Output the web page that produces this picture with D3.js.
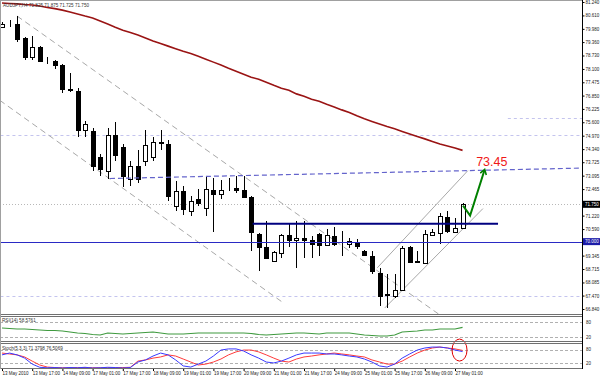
<!DOCTYPE html>
<html>
<head>
<meta charset="utf-8">
<script src="https://cdn.jsdelivr.net/npm/d3@7.9.0/dist/d3.min.js"></script>
<style>
  body { margin: 0; background: #fff; }
  svg { display: block; font-family: "Liberation Sans", Arial, sans-serif; }
</style>
</head>
<body>
<div id="chart"></div>
<script>
// price axis labels (right side); the ones under the bid / level tags are left out
const priceTicks = ['81.240', '80.610', '79.980', '79.360', '78.730', '78.100', '77.475', '76.850',
    '76.225', '75.600', '74.970', '74.340', '73.725', '73.095', '72.465', '71.220',
    '70.590', '69.345', '68.715', '68.085', '67.470', '66.840'];

// one label every 4 bars (H4)
const dateLabels = ['13 May 2010', '13 May 17:00', '14 May 09:00', '17 May 01:00', '17 May 17:00',
    '18 May 09:00', '19 May 01:00', '19 May 17:00', '20 May 09:00', '21 May 01:00', '21 May 17:00',
    '24 May 09:00', '25 May 01:00', '25 May 17:00', '26 May 09:00', '27 May 01:00'];

// AUDJPY H4 candles
const opens = [80.06, 80.25, 80.21, 79.55, 78.65, 79.12, 78.42, 78.46, 78.28, 77.15,
    77.05, 75.22, 75.17, 73.99, 73.33, 74.98, 74.46, 72.96, 73.57, 73.80,
    73.95, 74.65, 74.60, 71.69, 72.39, 71.45, 72.02, 71.59, 72.44, 72.25,
    72.53, 72.53, 72.44, 72.11, 70.37, 69.76, 69.10, 69.48, 70.32, 70.09,
    70.18, 70.09, 70.37, 69.85, 70.28, 69.90, 69.90, 69.99, 69.57, 69.33,
    68.53, 67.55, 67.45, 67.73, 69.76, 69.05, 69.01, 70.32, 70.42, 71.17,
    70.46, 70.65];
const highs = [80.30, 80.39, 80.58, 79.59, 79.64, 79.17, 78.65, 78.51, 78.32, 77.90,
    77.19, 75.64, 75.31, 74.13, 75.31, 75.59, 74.60, 73.80, 74.28, 75.22,
    74.89, 75.22, 74.75, 72.86, 72.63, 72.16, 72.49, 73.10, 73.00, 72.91,
    73.00, 73.10, 73.10, 72.16, 70.42, 70.98, 69.57, 70.37, 70.89, 70.98,
    70.98, 70.28, 70.42, 70.61, 70.70, 70.51, 70.18, 70.13, 69.62, 69.57,
    68.77, 68.49, 68.49, 69.81, 69.81, 69.57, 70.56, 70.61, 71.36, 71.45,
    71.12, 71.83];
const lows = [80.02, 80.06, 79.36, 78.51, 78.51, 78.42, 78.32, 78.09, 76.96, 77.01,
    74.93, 74.93, 73.33, 73.10, 72.96, 73.80, 72.58, 72.63, 72.77, 73.57,
    73.80, 74.28, 71.92, 71.45, 71.26, 71.22, 71.69, 71.22, 70.46, 72.02,
    72.39, 72.30, 72.06, 69.57, 68.63, 69.19, 69.05, 69.24, 69.76, 68.77,
    69.24, 69.24, 69.33, 69.81, 69.81, 69.33, 69.71, 69.66, 69.33, 68.49,
    66.98, 66.89, 67.36, 67.69, 69.01, 69.01, 68.96, 70.28, 69.90, 70.42,
    70.42, 70.61];
const closes = [80.21, 80.24, 79.50, 78.65, 79.12, 78.46, 78.41, 78.28, 77.15, 77.10,
    75.22, 75.50, 73.57, 73.43, 74.98, 74.04, 73.10, 73.57, 72.96, 74.51,
    74.65, 74.64, 72.16, 72.39, 71.55, 71.92, 71.83, 72.49, 72.25, 72.44,
    72.52, 72.44, 72.11, 70.46, 69.76, 69.24, 69.52, 70.32, 70.09, 70.18,
    70.09, 69.90, 69.85, 70.32, 69.90, 69.91, 70.04, 69.81, 69.38, 68.63,
    67.45, 67.50, 67.73, 69.71, 69.05, 69.10, 70.37, 70.46, 71.22, 70.51,
    70.65, 71.75];

// long moving average (dark red)
const maSlow = [81.19, 81.17, 81.15, 81.12, 81.10, 81.05, 80.98, 80.93, 80.86, 80.77,
    80.68, 80.58, 80.49, 80.35, 80.21, 80.06, 79.92, 79.81, 79.69, 79.55,
    79.41, 79.29, 79.17, 79.05, 78.93, 78.82, 78.70, 78.56, 78.42, 78.28,
    78.13, 77.99, 77.85, 77.71, 77.62, 77.48, 77.33, 77.19, 77.10, 76.93,
    76.82, 76.68, 76.58, 76.44, 76.32, 76.18, 76.06, 75.90, 75.76, 75.64,
    75.52, 75.40, 75.29, 75.17, 75.05, 74.93, 74.82, 74.70, 74.58, 74.49,
    74.39, 74.28];

const rsi14 = [56, 54, 52, 52, 50, 48, 46, 46, 44, 40,
    36, 34, 30, 28, 36, 34, 32, 34, 36, 38,
    40, 36, 32, 32, 32, 34, 36, 36, 36, 36,
    36, 36, 36, 34, 30, 28, 30, 32, 34, 36,
    36, 34, 32, 36, 36, 36, 36, 32, 28, 26,
    24, 24, 28, 40, 42, 44, 48, 48, 52, 52,
    52, 58.6];

const stochMain = [57, 65, 57, 43, 17, 3, 1, 2, 0, 2,
    1, 3, 0, 1, 3, 2, 0, 2, 26, 35,
    52, 65, 57, 35, 9, 4, 17, 30, 52, 78,
    83, 83, 74, 57, 43, 26, 22, 30, 43, 57,
    65, 65, 65, 61, 61, 57, 52, 48, 39, 26,
    9, 4, 17, 43, 61, 78, 87, 91, 91, 87,
    78, 71.4];
const stochSignal = [65, 61, 57, 48, 30, 13, 4, 2, 1, 1,
    2, 2, 1, 1, 1, 2, 2, 3, 30, 35,
    43, 48, 57, 52, 39, 26, 13, 17, 26, 39,
    57, 70, 78, 78, 70, 57, 43, 30, 26, 39,
    48, 52, 57, 61, 65, 61, 57, 52, 48, 35,
    26, 17, 17, 30, 48, 65, 78, 87, 91, 87,
    83, 76.5];

const W = 600, H = 376;
const axisX = 582.5;

const svg = d3.select('#chart')
    .append('svg')
    .attr('width', W)
    .attr('height', H);

const x = d3.scaleLinear().domain([0, 61]).range([2, 462.55]);
const y = d3.scaleLinear().domain([66.84, 81.24]).range([309, 2]);
const yRsi = d3.scaleLinear().domain([0, 100]).range([342, 317]);
const ySto = d3.scaleLinear().domain([0, 100]).range([368, 345]);

const px = v => Math.round(x(v)) + 0.5;

const defs = svg.append('defs');
defs.append('clipPath').attr('id', 'main-clip')
    .append('rect').attr('x', 0).attr('y', 0).attr('width', axisX).attr('height', 314);
defs.append('clipPath').attr('id', 'sto-clip')
    .append('rect').attr('x', 0).attr('y', 344).attr('width', axisX).attr('height', 24);
defs.append('marker')
    .attr('id', 'arrowhead')
    .attr('viewBox', '0 0 10 10')
    .attr('refX', 6).attr('refY', 5)
    .attr('markerWidth', 4).attr('markerHeight', 4)
    .attr('orient', 'auto')
    .append('path')
    .attr('d', 'M1,1 L7,5 L1,9')
    .attr('fill', 'none')
    .attr('stroke', '#008000')
    .attr('stroke-width', 2);

const main = svg.append('g').attr('clip-path', 'url(#main-clip)');

// faint dotted levels
const faint = [
    { p: 75.78, from: 67, to: 77 },
    { p: 74.98, from: -1, to: 77 },
    { p: 67.45, from: -1, to: 77 }
];
main.selectAll('line.faint')
    .data(faint)
    .enter()
    .append('line')
    .attr('class', 'faint')
    .attr('x1', d => x(d.from)).attr('x2', d => x(d.to))
    .attr('y1', d => Math.round(y(d.p)) + 0.5).attr('y2', d => Math.round(y(d.p)) + 0.5)
    .attr('stroke', '#c4c4ee')
    .attr('stroke-dasharray', '3,3');

// bid line
main.append('line')
    .attr('x1', 0).attr('x2', axisX)
    .attr('y1', Math.round(y(71.75)) + 0.5).attr('y2', Math.round(y(71.75)) + 0.5)
    .attr('stroke', '#b8b8b8')
    .attr('stroke-dasharray', '1,2');

// moving average
main.append('path')
    .datum(maSlow)
    .attr('fill', 'none')
    .attr('stroke', '#9a1414')
    .attr('stroke-width', 1.6)
    .attr('d', d3.line().x((d, i) => x(i)).y(d => y(d)));

// trend channels
const channels = [
    { a: [2.0, 80.58], b: [58.0, 66.56], dash: '6,4' },
    { a: [-0.3, 76.63], b: [37.1, 67.17], dash: '6,4' },
    { a: [49.7, 68.77], b: [61.7, 73.33], dash: null },
    { a: [50.7, 66.89], b: [63.7, 71.55], dash: null }
];
main.selectAll('line.channel')
    .data(channels)
    .enter()
    .append('line')
    .attr('class', 'channel')
    .attr('x1', d => x(d.a[0])).attr('y1', d => y(d.a[1]))
    .attr('x2', d => x(d.b[0])).attr('y2', d => y(d.b[1]))
    .attr('stroke', '#a8a8a8')
    .attr('stroke-width', 1)
    .attr('stroke-dasharray', d => d.dash);

// candles
const bars = opens.map((o, i) => ({ i, o, h: highs[i], l: lows[i], c: closes[i] }));
const candle = main.append('g').attr('class', 'candles')
    .selectAll('g')
    .data(bars)
    .enter()
    .append('g');

candle.append('line')
    .attr('x1', d => px(d.i)).attr('x2', d => px(d.i))
    .attr('y1', d => Math.round(y(d.h))).attr('y2', d => Math.round(y(d.l)))
    .attr('stroke', '#000')
    .attr('stroke-width', 1);

candle.append('rect')
    .attr('x', d => px(d.i) - 2)
    .attr('y', d => Math.round(y(Math.max(d.o, d.c))) + 0.5)
    .attr('width', 4)
    .attr('height', d => Math.max(0, Math.round(y(Math.min(d.o, d.c))) - Math.round(y(Math.max(d.o, d.c)))))
    .attr('fill', d => d.c >= d.o ? '#fff' : '#000')
    .attr('stroke', '#000')
    .attr('stroke-width', 1);

// horizontal objects
main.append('line')
    .attr('x1', 0).attr('x2', axisX)
    .attr('y1', Math.round(y(70.00)) + 0.5).attr('y2', Math.round(y(70.00)) + 0.5)
    .attr('stroke', '#2a2ac4')
    .attr('stroke-width', 1);

main.append('line')
    .attr('x1', x(33.2)).attr('x2', x(65.7))
    .attr('y1', y(70.84)).attr('y2', y(70.84))
    .attr('stroke', '#000080')
    .attr('stroke-width', 2);

main.append('line')
    .attr('x1', x(14.3)).attr('y1', y(72.96))
    .attr('x2', x(76.8)).attr('y2', y(73.45))
    .attr('stroke', '#6464cc')
    .attr('stroke-width', 1.2)
    .attr('stroke-dasharray', '5,3');

// projected move
const arrowPts = [[61.06, 71.69], [62.0, 71.22], [63.9, 73.35]];
main.append('path')
    .datum(arrowPts)
    .attr('fill', 'none')
    .attr('stroke', '#008000')
    .attr('stroke-width', 2)
    .attr('marker-end', 'url(#arrowhead)')
    .attr('d', d3.line().x(d => x(d[0])).y(d => y(d[1])));

main.append('text')
    .attr('x', x(62.8))
    .attr('y', y(73.53))
    .attr('fill', '#f01818')
    .attr('font-size', '12.5px')
    .text('73.45');

svg.append('text')
    .attr('x', 3).attr('y', 7)
    .attr('font-size', '4.6px')
    .attr('fill', '#333')
    .text('AUDJPY,H4  71.825 71.875 71.725 71.750');

// RSI panel
[80, 20].forEach(v => {
    svg.append('line')
        .attr('x1', 0).attr('x2', axisX)
        .attr('y1', Math.round(yRsi(v)) + 0.5).attr('y2', Math.round(yRsi(v)) + 0.5)
        .attr('stroke', '#b0b0b0')
        .attr('stroke-dasharray', '3,2');
});
svg.append('path')
    .datum(rsi14)
    .attr('fill', 'none')
    .attr('stroke', '#3f9a3f')
    .attr('stroke-width', 1.2)
    .attr('d', d3.line().x((d, i) => x(i)).y(d => yRsi(d)));
svg.append('text')
    .attr('x', 2).attr('y', 322)
    .attr('font-size', '4.6px')
    .attr('fill', '#333')
    .text('RSI(14) 58.5761');

// Stochastic panel
[80, 20].forEach(v => {
    svg.append('line')
        .attr('x1', 0).attr('x2', axisX)
        .attr('y1', Math.round(ySto(v)) + 0.5).attr('y2', Math.round(ySto(v)) + 0.5)
        .attr('stroke', '#b0b0b0')
        .attr('stroke-dasharray', '3,2');
});
const sto = svg.append('g').attr('clip-path', 'url(#sto-clip)');
sto.append('path')
    .datum(stochSignal)
    .attr('fill', 'none')
    .attr('stroke', '#ff3a3a')
    .attr('stroke-width', 1)
    .attr('d', d3.line().x((d, i) => x(i)).y(d => ySto(d)));
sto.append('path')
    .datum(stochMain)
    .attr('fill', 'none')
    .attr('stroke', '#3a3aff')
    .attr('stroke-width', 1)
    .attr('d', d3.line().x((d, i) => x(i)).y(d => ySto(d)));
svg.append('text')
    .attr('x', 2).attr('y', 350)
    .attr('font-size', '4.6px')
    .attr('fill', '#333')
    .text('Stoch(5,3,3) 71.3798 76.5069');

svg.append('ellipse')
    .attr('cx', x(60.6))
    .attr('cy', ySto(78))
    .attr('rx', 7.5)
    .attr('ry', 11)
    .attr('fill', 'none')
    .attr('stroke', '#e00000')
    .attr('stroke-width', 1);

// window borders
const borders = [0.5, 314.5, 316.5, 341.5, 343.5, 368.5];
svg.selectAll('line.border')
    .data(borders)
    .enter()
    .append('line')
    .attr('class', 'border')
    .attr('x1', 0).attr('x2', axisX)
    .attr('y1', d => d).attr('y2', d => d)
    .attr('stroke', d => d === 0.5 ? '#a0a0a0' : '#707070');
svg.append('line')
    .attr('x1', 0.5).attr('x2', 0.5).attr('y1', 0).attr('y2', 369)
    .attr('stroke', '#a0a0a0');
svg.append('line')
    .attr('x1', axisX).attr('x2', axisX).attr('y1', 0).attr('y2', 369)
    .attr('stroke', '#000');

// price axis
const yAxis = d3.axisRight(y)
    .tickValues(priceTicks.map(Number))
    .tickFormat(d3.format('.3f'))
    .tickSize(2)
    .tickSizeOuter(0)
    .tickPadding(1);
const yAxisG = svg.append('g')
    .attr('transform', `translate(${axisX}, 0)`)
    .call(yAxis);
yAxisG.select('.domain').remove();
yAxisG.selectAll('text').attr('font-size', '4.5px').attr('fill', '#222').attr('font-family', '"Liberation Sans", Arial, sans-serif');

// indicator level labels
const levelLabels = [
    { t: '80', yy: yRsi(80) }, { t: '20', yy: yRsi(20) },
    { t: '80', yy: ySto(80) }, { t: '20', yy: ySto(20) }
];
svg.selectAll('text.level')
    .data(levelLabels)
    .enter()
    .append('text')
    .attr('class', 'level')
    .attr('x', 586).attr('y', d => d.yy + 1.6)
    .attr('font-size', '4.5px')
    .attr('fill', '#222')
    .text(d => d.t);

// highlighted price boxes
const tags = [
    { p: 71.75, bg: '#000', label: '71.750' },
    { p: 70.00, bg: '#1c1ca8', label: '70.000' }
];
const tag = svg.selectAll('g.tag')
    .data(tags)
    .enter()
    .append('g')
    .attr('class', 'tag');
tag.append('rect')
    .attr('x', axisX + 0.5)
    .attr('y', d => y(d.p) - 3.5)
    .attr('width', 17)
    .attr('height', 7)
    .attr('fill', d => d.bg);
tag.append('text')
    .attr('x', axisX + 2.5)
    .attr('y', d => y(d.p) + 1.6)
    .attr('font-size', '4.5px')
    .attr('fill', '#fff')
    .text(d => d.label);

// time axis
const xAxis = d3.axisBottom(x)
    .tickValues(d3.range(0, 61, 4))
    .tickFormat((d, i) => dateLabels[i])
    .tickSize(2)
    .tickSizeOuter(0)
    .tickPadding(0.5);
const xAxisG = svg.append('g')
    .attr('transform', 'translate(0, 369)')
    .call(xAxis);
xAxisG.select('.domain').remove();
xAxisG.selectAll('text')
    .attr('text-anchor', 'start')
    .attr('font-size', '4.5px')
    .attr('fill', '#222')
    .attr('font-family', '"Liberation Sans", Arial, sans-serif');
</script>
</body>
</html>
